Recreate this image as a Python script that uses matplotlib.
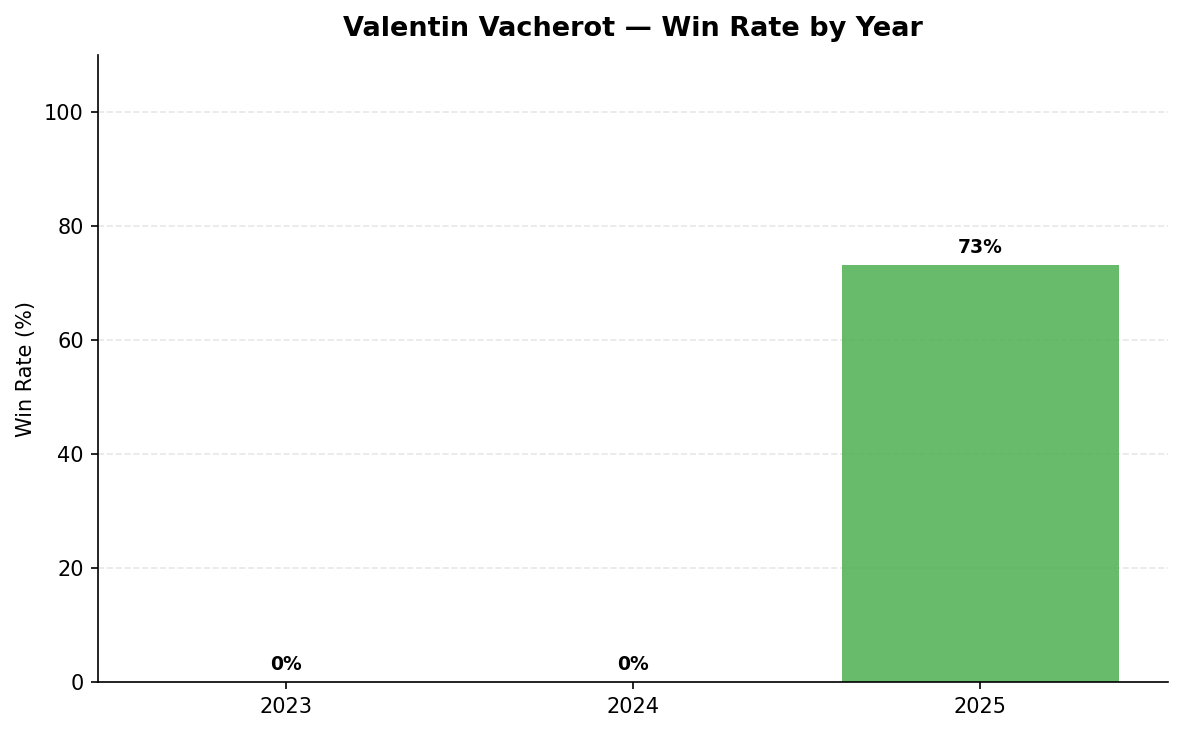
import matplotlib
matplotlib.use('Agg')
import matplotlib.pyplot as plt

years = ['2023', '2024', '2025']
win_rates = [0.0, 0.0, 73.1]

fig, ax = plt.subplots(figsize=(1184 / 150, 732 / 150), dpi=150)
bars = ax.bar(years, win_rates, color='#4CAF50', alpha=0.85, width=0.8)

for bar, rate in zip(bars, win_rates):
    ax.text(bar.get_x() + bar.get_width() / 2, bar.get_height() + 1.5,
            f'{rate:.0f}%', ha='center', va='bottom', fontsize=9, fontweight='bold')

ax.set_ylim(0, 110)
ax.set_ylabel('Win Rate (%)')
ax.set_title('Valentin Vacherot — Win Rate by Year', fontsize=13, fontweight='bold', pad=9)
ax.grid(axis='y', linestyle='--', alpha=0.3)
ax.set_axisbelow(True)
ax.spines['top'].set_visible(False)
ax.spines['right'].set_visible(False)

fig.subplots_adjust(left=0.083, right=0.9865, top=0.925, bottom=0.068)
plt.savefig('out.png', dpi=150)
plt.close()
